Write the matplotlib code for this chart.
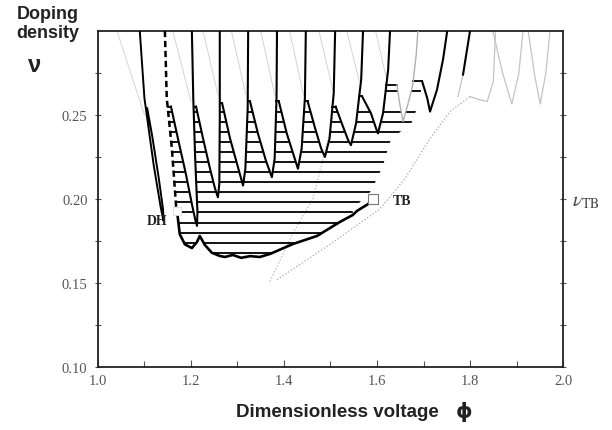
import numpy as np
import matplotlib.pyplot as plt
from matplotlib.patches import Polygon

plt.rcParams['mathtext.fontset'] = 'stix'

# ---- curves, as (phi, nu) pairs ----
loop_outer = [(1.090, 0.300), (1.100, 0.260), (1.120, 0.220), (1.135, 0.195), (1.141, 0.187)]
loop_inner = [(1.141, 0.187), (1.140, 0.194), (1.131, 0.212), (1.117, 0.237), (1.106, 0.254)]
dashed = [(1.144, 0.300), (1.148, 0.260), (1.159, 0.230), (1.168, 0.196), (1.170, 0.193)]

v2_left = [(1.157, 0.255), (1.172, 0.236), (1.189, 0.215), (1.202, 0.197), (1.209, 0.188), (1.213, 0.184)]
v2_right = [(1.213, 0.184), (1.214, 0.192), (1.209, 0.225), (1.205, 0.260), (1.202, 0.300)]
v3_left = [(1.211, 0.255), (1.226, 0.236), (1.241, 0.218), (1.252, 0.206), (1.258, 0.201)]
v3_right = [(1.258, 0.201), (1.261, 0.209), (1.262, 0.248), (1.262, 0.300)]
v4_left = [(1.267, 0.257), (1.284, 0.236), (1.301, 0.219), (1.309, 0.211), (1.312, 0.208)]
v4_right = [(1.312, 0.208), (1.317, 0.218), (1.322, 0.254), (1.323, 0.300)]
v5_left = [(1.327, 0.258), (1.344, 0.239), (1.361, 0.223), (1.370, 0.216), (1.374, 0.213)]
v5_right = [(1.374, 0.213), (1.380, 0.224), (1.384, 0.260), (1.385, 0.300)]
v6_left = [(1.389, 0.258), (1.406, 0.239), (1.422, 0.225), (1.430, 0.218)]
v6_right = [(1.430, 0.218), (1.438, 0.230), (1.445, 0.260), (1.447, 0.300)]
v7_left = [(1.451, 0.258), (1.467, 0.242), (1.480, 0.230), (1.488, 0.225)]
v7_right = [(1.488, 0.225), (1.498, 0.236), (1.507, 0.263), (1.510, 0.300)]
v8_left = [(1.511, 0.255), (1.527, 0.243), (1.538, 0.235), (1.544, 0.232)]
v8_right = [(1.544, 0.232), (1.555, 0.245), (1.566, 0.271), (1.570, 0.300)]
v9_left = [(1.568, 0.261), (1.587, 0.251), (1.598, 0.242), (1.602, 0.239)]
v9_right = [(1.602, 0.239), (1.613, 0.251), (1.624, 0.277), (1.628, 0.300)]
v10_left = [(1.643, 0.268), (1.648, 0.258), (1.656, 0.246)]
v10_right = [(1.656, 0.246), (1.667, 0.257), (1.677, 0.268), (1.684, 0.285), (1.688, 0.300)]
v11_left = [(1.697, 0.270), (1.708, 0.260), (1.714, 0.252)]
v11_right = [(1.714, 0.252), (1.729, 0.265), (1.742, 0.283), (1.751, 0.300)]
v12_black = [(1.800, 0.300), (1.785, 0.274)]
v12_gray = [(1.785, 0.274), (1.774, 0.261)]

envelope = [(1.170, 0.193), (1.176, 0.179), (1.187, 0.173), (1.202, 0.1708), (1.213, 0.1744),
            (1.219, 0.178), (1.230, 0.1726), (1.245, 0.168), (1.262, 0.1661), (1.273, 0.1655),
            (1.290, 0.1667), (1.308, 0.165), (1.327, 0.166), (1.348, 0.1655), (1.370, 0.1673),
            (1.419, 0.1732), (1.471, 0.178), (1.520, 0.1863), (1.548, 0.1905), (1.557, 0.1929),
            (1.581, 0.197), (1.591, 0.200)]
right_edge = [(1.548, 0.194), (1.585, 0.204), (1.600, 0.212), (1.613, 0.220), (1.628, 0.234),
              (1.650, 0.240), (1.671, 0.243), (1.682, 0.251), (1.692, 0.258), (1.697, 0.270)]
hatch_nu = [0.168, 0.174, 0.180, 0.186, 0.192, 0.198, 0.204, 0.210, 0.216, 0.222,
            0.228, 0.234, 0.240, 0.246, 0.252, 0.264]

# faint background curves
dotted_a = [(1.385, 0.152), (1.499, 0.173), (1.606, 0.194), (1.660, 0.212), (1.714, 0.236),
            (1.757, 0.252), (1.800, 0.261)]
dotted_b = [(1.370, 0.151), (1.420, 0.180), (1.462, 0.200), (1.495, 0.236), (1.505, 0.250)]
gray_wiggle = [(1.800, 0.261), (1.815, 0.2595), (1.837, 0.258), (1.850, 0.270), (1.855, 0.300)]
gray_v1 = [(1.849, 0.300), (1.870, 0.275), (1.890, 0.2565), (1.905, 0.275), (1.914, 0.300)]
gray_v2 = [(1.925, 0.300), (1.940, 0.272), (1.951, 0.2565), (1.963, 0.275), (1.972, 0.300)]
gray_slants = [[(1.041, 0.300), (1.100, 0.250)], [(1.161, 0.300), (1.200, 0.258)],
               [(1.226, 0.300), (1.258, 0.262)], [(1.287, 0.300), (1.318, 0.262)],
               [(1.350, 0.300), (1.380, 0.262)], [(1.412, 0.300), (1.442, 0.262)],
               [(1.475, 0.300), (1.505, 0.265)], [(1.535, 0.300), (1.562, 0.270)],
               [(1.597, 0.300), (1.620, 0.272)]]

dh_point = (1.170, 0.193)
tb_point = (1.591, 0.200)


def level_x(branch, nu):
    b = np.asarray(branch)
    order = np.argsort(b[:, 1])
    return float(np.interp(nu, b[order, 1], b[order, 0]))


def xy(pts):
    a = np.asarray(pts)
    return a[:, 0], a[:, 1]


fig = plt.figure(figsize=(6.12, 4.31), dpi=100)
ax = fig.add_axes([0.160, 0.146, 0.760, 0.780])
ax.set_xlim(1.0, 2.0)
ax.set_ylim(0.10, 0.30)

# hatched region: below the tongue caps, above the lower envelope
tongues = [(v2_left, v2_right), (v3_left, v3_right), (v4_left, v4_right), (v5_left, v5_right),
           (v6_left, v6_right), (v7_left, v7_right), (v8_left, v8_right), (v9_left, v9_right),
           (v10_left, v10_right)]
cap = v2_left[0][1]
poly = [(level_x(dashed, cap), cap)]
poly += [p for p in dashed if p[1] < cap]
poly += [p for p in envelope[1:] if p[0] <= right_edge[0][0]]
poly += right_edge
caps = [((level_x(dashed, v2_left[0][1]), v2_left[0][0]), v2_left[0][1])]
cap, top_x = right_edge[-1][1], right_edge[-1][0]
for left, right in reversed(tongues):
    x0 = level_x(right, cap)
    caps.append(((x0, top_x), cap))
    poly.append((x0, cap))
    poly += [p for p in right[::-1] if p[1] < cap]
    poly += left[::-1]
    cap, top_x = left[0][1], left[0][0]

clip = Polygon(poly, closed=True, facecolor='none', edgecolor='none')
ax.add_patch(clip)
hl = ax.hlines(hatch_nu, 1.1, 1.75, colors='black', linewidth=1.3, zorder=2)
hl.set_clip_path(clip)
for (xa, xb), nu in caps:
    ax.plot([xa, xb], [nu, nu], color='black', linewidth=1.3, zorder=2)

# faint background curves
for seg in gray_slants:
    ax.plot(*xy(seg), color='#d4d4d4', linewidth=0.7, zorder=1)
ax.plot(*xy(dotted_a), color='#a8a8a8', linewidth=0.9, linestyle=':', zorder=1)
ax.plot(*xy(dotted_b), color='#b8b8b8', linewidth=0.9, linestyle=':', zorder=1)
for curve in (gray_wiggle, gray_v1, gray_v2, v12_gray):
    ax.plot(*xy(curve), color='#c4c4c4', linewidth=0.9, zorder=1)
ax.plot(*xy(v10_left + v10_right), color='#b0b0b0', linewidth=1.0, zorder=3)

# black tongue boundaries
for left, right in tongues[:-1] + [(v11_left, v11_right)]:
    ax.plot(*xy(left + right), color='black', linewidth=1.5, zorder=3)
ax.plot(*xy(v12_black), color='black', linewidth=1.5, zorder=3)
ax.plot(*xy(loop_outer + loop_inner), color='black', linewidth=1.4, zorder=3)
ax.plot(*xy(dashed), color='black', linewidth=1.8, linestyle=(0, (2.5, 1.5)), zorder=3)
ax.plot(*xy(envelope), color='black', linewidth=1.9, zorder=3)

ax.plot(*tb_point, marker='s', markersize=7, markerfacecolor='white',
        markeredgecolor='#777777', markeredgewidth=0.8, zorder=4)
ax.plot(*dh_point, marker='s', markersize=6, markerfacecolor='white',
        markeredgecolor='#dddddd', markeredgewidth=0.6, zorder=4)

ax.text(1.127, 0.187, 'DH', fontsize=10, fontweight='bold', family='Liberation Serif',
        ha='center', va='center', color='#222222')
ax.text(1.654, 0.199, 'TB', fontsize=10, fontweight='bold', family='Liberation Serif',
        ha='center', va='center', color='#222222')
ax.text(2.050, 0.199, r'$\nu_{\rm TB}$', fontsize=14, ha='center', va='center',
        color='#444444', clip_on=False)

# axes styling
ax.set_xticks([1.0, 1.2, 1.4, 1.6, 1.8, 2.0])
ax.set_xticklabels(['1.0', '1.2', '1.4', '1.6', '1.8', '2.0'])
ax.set_xticks([1.1, 1.3, 1.5, 1.7, 1.9], minor=True)
ax.set_yticks([0.10, 0.15, 0.20, 0.25])
ax.set_yticklabels(['0.10', '0.15', '0.20', '0.25'])
ax.set_yticks([0.125, 0.175, 0.225, 0.275], minor=True)
ax.tick_params(which='both', direction='inout', right=True, top=False, width=0.8, color='#555555')
ax.tick_params(axis='x', which='both', direction='in')
ax.tick_params(which='major', length=5, labelsize=10.5, labelcolor='#555555', pad=5)
ax.tick_params(which='minor', length=4)
for lab in ax.get_xticklabels() + ax.get_yticklabels():
    lab.set_family('Liberation Serif')
for sp in ax.spines.values():
    sp.set_linewidth(1.3)
    sp.set_color('#222222')

fig.text(0.078, 0.967, 'Doping', fontsize=13, fontweight='bold', family='Liberation Sans',
         ha='center', va='center', color='#222222')
fig.text(0.078, 0.923, 'density', fontsize=13, fontweight='bold', family='Liberation Sans',
         ha='center', va='center', color='#222222')
fig.text(0.057, 0.849, 'ν', fontsize=17, fontweight='bold', family='Liberation Sans',
         ha='center', va='center', color='#222222')
fig.text(0.551, 0.042, 'Dimensionless voltage', fontsize=13.5, fontweight='bold',
         family='Liberation Sans', ha='center', va='center', color='#222222')
fig.text(0.758, 0.045, 'ϕ', fontsize=15, fontweight='bold', family='DejaVu Sans',
         ha='center', va='center', color='#222222')

fig.savefig('out.png', dpi=100)
